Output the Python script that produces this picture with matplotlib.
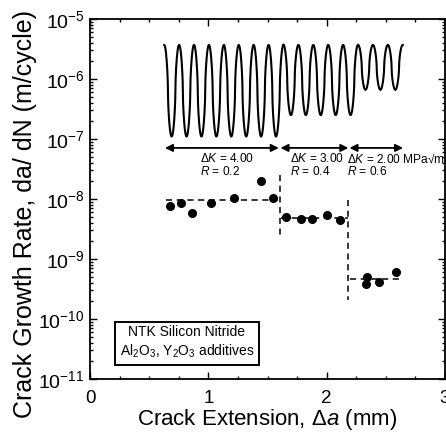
import numpy as np
import matplotlib
matplotlib.use("Agg")
import matplotlib.pyplot as plt
from matplotlib.ticker import LogLocator, MultipleLocator, NullFormatter

plt.rcParams['font.family'] = ['Liberation Sans', 'DejaVu Sans']
plt.rcParams['mathtext.fontset'] = 'custom'
plt.rcParams['mathtext.rm'] = 'Liberation Sans'
plt.rcParams['mathtext.it'] = 'Liberation Sans:italic'
plt.rcParams['mathtext.bf'] = 'Liberation Sans:bold'

# ---- data ----
seg1_x = [0.68, 0.77, 0.86, 1.02, 1.22, 1.445, 1.55]
seg1_y = [7.7e-9, 8.5e-9, 5.8e-9, 8.5e-9, 1.02e-8, 2.0e-8, 1.02e-8]
seg2_x = [1.66, 1.78, 1.88, 2.00, 2.11]
seg2_y = [5.0e-9, 4.7e-9, 4.7e-9, 5.5e-9, 4.5e-9]
seg3_x = [2.34, 2.33, 2.44, 2.59]
seg3_y = [5.1e-10, 3.9e-10, 4.1e-10, 6.0e-10]

mean_x = [(0.64, 1.59), (1.61, 2.18), (2.20, 2.63)]
mean_y = [9.6e-9, 4.8e-9, 4.7e-10]
step_x = [1.606, 2.183]
step_y = [(2.5e-8, 2.2e-9), (9.5e-9, 2.1e-10)]

arrow_x = [(0.634, 1.595), (1.610, 2.183), (2.193, 2.645)]
arrow_y = 7.1e-8
dK_labels = ['$\\Delta K$ = 4.00', '$\\Delta K$ = 3.00', '$\\Delta K$ = 2.00 MPa\u221am']
R_labels = ['$R$ = 0.2', '$R$ = 0.4', '$R$ = 0.6']
label_x = [0.93, 1.69, 2.175]

# schematic loading waveform
wave_start = 0.627
wave_period = 0.126
wave_cycles = [8, 5, 3]
wave_peak = 3.7e-6
wave_trough = [1.1e-7, 2.5e-7, 6.6e-7]
wave_shape = 0.6  # rounding exponent of the schematic cycles

xticks = [0, 1, 2, 3]

fig = plt.figure(figsize=(4.46, 4.37), dpi=100)
ax = fig.add_axes([90/446, 58/437, 355/446, 360/437])
ax.set_yscale('log')
ax.set_xlim(0, 3)
ax.set_ylim(1e-11, 1e-5)

# waveform
x0 = wave_start
for n, tr in zip(wave_cycles, wave_trough):
    t = np.linspace(0, n, n * 120 + 1)
    lo, hi = np.log10(tr), np.log10(wave_peak)
    c = np.cos(2 * np.pi * t)
    s = np.sign(c) * np.abs(c) ** wave_shape
    ly = lo + (hi - lo) * (1 + s) / 2
    ax.plot(x0 + t * wave_period, 10 ** ly, color='black', lw=1.5)
    x0 += n * wave_period

# arrows
for (a, b) in arrow_x:
    ax.annotate('', xy=(b, arrow_y), xytext=(a, arrow_y),
                arrowprops=dict(arrowstyle='<|-|>', color='black', lw=1.3,
                                mutation_scale=11, shrinkA=0, shrinkB=0))
for lx, dk, r in zip(label_x, dK_labels, R_labels):
    ax.text(lx, 4.7e-8, dk, fontsize=8.6, ha='left', va='center')
    ax.text(lx, 2.85e-8, r, fontsize=8.6, ha='left', va='center')

# means and steps
for (a, b), m in zip(mean_x, mean_y):
    ax.plot([a, b], [m, m], color='black', lw=1.1, ls=(0, (4, 3)))
for sx, (a, b) in zip(step_x, step_y):
    ax.plot([sx, sx], [a, b], color='black', lw=1.1, ls=(0, (4, 3)))

for xs, ys in [(seg1_x, seg1_y), (seg2_x, seg2_y), (seg3_x, seg3_y)]:
    ax.plot(xs, ys, 'o', color='black', ms=5.5, mec='black')

ax.text(0.273, 0.101, 'NTK Silicon Nitride\nAl$_2$O$_3$, Y$_2$O$_3$ additives',
        transform=ax.transAxes, fontsize=10, ha='center', va='center',
        linespacing=1.3,
        bbox=dict(boxstyle='square,pad=0.35', fc='white', ec='black', lw=1.4))

ax.set_xticks(xticks)
ax.xaxis.set_minor_locator(MultipleLocator(0.25))
ax.yaxis.set_major_locator(LogLocator(base=10, numticks=20))
ax.yaxis.set_minor_locator(LogLocator(base=10, subs=np.arange(2, 10), numticks=20))
ax.yaxis.set_minor_formatter(NullFormatter())
ax.tick_params(which='both', direction='in', top=True, right=True, width=1.0)
ax.tick_params(which='major', length=5)
ax.tick_params(which='minor', length=2.5)
ax.tick_params(axis='x', labelsize=13.5, pad=8)
ax.tick_params(axis='y', labelsize=14, pad=4)
for s in ax.spines.values():
    s.set_linewidth(1.3)

ax.set_xlabel('Crack Extension, $\\Delta a$ (mm)', fontsize=16, labelpad=0)
ax.set_ylabel('Crack Growth Rate, da/ dN (m/cycle)', fontsize=18)
ax.yaxis.set_label_coords(-0.148, 0.458)

fig.savefig('out.png', dpi=100)
